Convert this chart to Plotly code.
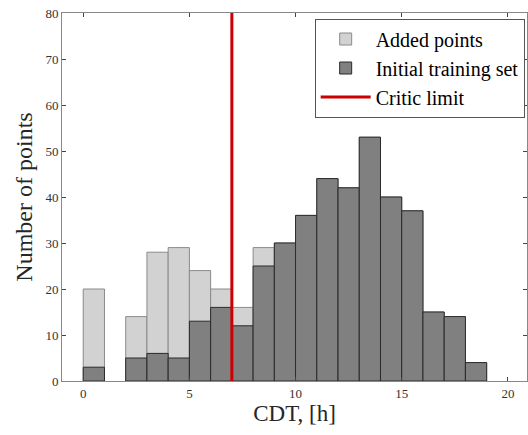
import plotly.graph_objects as go

bin_left = [0, 1, 2, 3, 4, 5, 6, 7, 8, 9, 10, 11, 12, 13, 14, 15, 16, 17, 18]
initial_counts = [3, 0, 5, 6, 5, 13, 16, 12, 25, 30, 36, 44, 42, 53, 40, 37, 15, 14, 4]
total_counts = [20, 0, 14, 28, 29, 24, 20, 16, 29, 30, 36, 44, 42, 53, 40, 37, 15, 14, 4]
critic_limit = 7
x_ticks = [0, 5, 10, 15, 20]
y_ticks = [0, 10, 20, 30, 40, 50, 60, 70, 80]

centers = [b + 0.5 for b in bin_left]
font_family = "Liberation Serif, DejaVu Serif, serif"

def nz(vals):
    return [v if v else None for v in vals]

fig = go.Figure()
fig.add_trace(go.Bar(
    x=centers, y=nz(total_counts), width=1, name="Added points",
    marker=dict(color="#d2d2d2", line=dict(color="#8a8a8a", width=1)),
))
fig.add_trace(go.Bar(
    x=centers, y=nz(initial_counts), width=1, name="Initial training set",
    marker=dict(color="#808080", line=dict(color="#2a2a2a", width=1)),
))
fig.add_trace(go.Scatter(
    x=[critic_limit, critic_limit], y=[0, 80], mode="lines", name="Critic limit",
    line=dict(color="#cc0000", width=3),
))

fig.update_layout(
    width=528, height=435,
    margin=dict(l=62, r=1, t=13, b=54),
    barmode="overlay",
    plot_bgcolor="white", paper_bgcolor="white",
    font=dict(family=font_family, color="#262626"),
    legend=dict(
        x=0.995, y=0.985, xanchor="right", yanchor="top",
        bgcolor="white", bordercolor="#555", borderwidth=1,
        font=dict(size=20, family=font_family, color="black"),
        tracegroupgap=0, itemwidth=50,
    ),
    xaxis=dict(
        range=[-1, 20.9], tickvals=x_ticks, ticks="inside", ticklen=4,
        mirror="ticks", showline=True, linecolor="#888", linewidth=1,
        showgrid=False, zeroline=False, tickfont=dict(size=13, color="#333"),
        title=dict(text="CDT, [h]", font=dict(size=23, color="#262626"), standoff=2),
    ),
    yaxis=dict(
        range=[0, 80], tickvals=y_ticks, ticks="inside", ticklen=4,
        mirror="ticks", showline=True, linecolor="#888", linewidth=1,
        showgrid=False, zeroline=False, tickfont=dict(size=13, color="#333"),
        title=dict(text="Number of points", font=dict(size=24, color="#262626"), standoff=6),
    ),
)

fig.write_html("out.html", config={"displayModeBar": False},
               post_script="document.body.style.margin='0px';")
